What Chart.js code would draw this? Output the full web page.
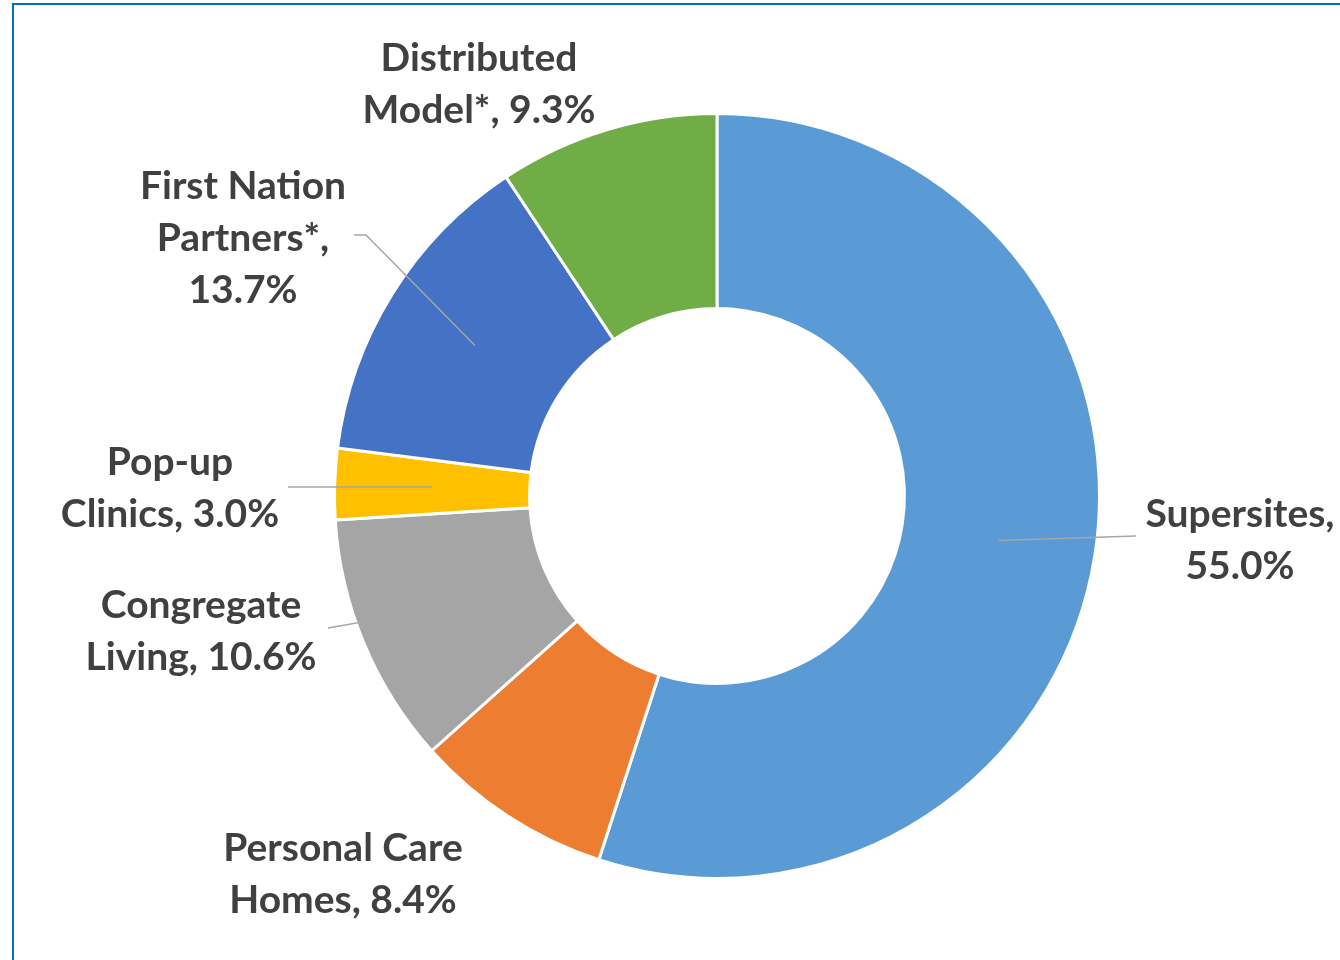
<!DOCTYPE html>
<html>
<head>
<meta charset="utf-8">
<script src="https://cdn.jsdelivr.net/npm/chart.js@4.4.1/dist/chart.umd.min.js"></script>
<style>
  html, body { margin: 0; padding: 0; background: #fff; overflow: hidden; }
  #wrap { position: relative; width: 1340px; height: 960px; overflow: hidden; }
  #frame { position: absolute; left: 12px; top: 3px; width: 1400px; height: 1000px;
           border: 2px solid #0070C0; box-sizing: border-box; }
  canvas { position: absolute; left: 0; top: 0; }
</style>
</head>
<body>
<div id="wrap">
  <div id="frame"></div>
  <canvas id="donut" width="1340" height="960"></canvas>
</div>
<script>
// données du graphique
const categories = ['Supersites', 'Personal Care Homes', 'Congregate Living',
                    'Pop-up Clinics', 'First Nation Partners*', 'Distributed Model*'];
const shares = [55.0, 8.4, 10.6, 3.0, 13.7, 9.3];
const sliceColors = ['#5B9BD5', '#ED7D31', '#A5A5A5', '#FFC000', '#4472C4', '#70AD47'];

// mise en page des étiquettes (décalage par rapport au centre de l'anneau)
// words = nombre de mots par ligne, leader = fin du trait (null = pas de trait)
const labelLayout = [
  { dx: 523,  dy: 44,   words: [1, 1],    leader: [[419, 40]] },
  { dx: -374, dy: 378,  words: [2, 2],    leader: null },
  { dx: -516, dy: 135,  words: [1, 2],    leader: [[-389, 132]] },
  { dx: -547, dy: -8,   words: [1, 2],    leader: [[-429, -9]] },
  { dx: -474, dy: -258, words: [2, 1, 1], leader: [[-351, -261], [-363, -261]] },
  { dx: -238, dy: -412, words: [1, 2],    leader: null },
];

const LABEL_FONT = 'bold 39px Lato';
const LINE_H = 52;

function labelText(i) {
  const words = `${categories[i]}, ${shares[i].toFixed(1)}%`.split(' ');
  const lines = [];
  let k = 0;
  labelLayout[i].words.forEach((n) => {
    lines.push(words.slice(k, k + n).join(' '));
    k += n;
  });
  return lines;
}

const donutLabels = {
  id: 'donutLabels',
  afterDatasetsDraw(chart) {
    const ctx = chart.ctx;
    const arcs = chart.getDatasetMeta(0).data;
    ctx.save();

    // traits de rappel
    ctx.strokeStyle = '#A6A6A6';
    ctx.lineWidth = 1.5;
    arcs.forEach((arc, i) => {
      const lay = labelLayout[i];
      if (!lay.leader) return;
      const p = arc.getProps(['x', 'y', 'startAngle', 'endAngle', 'innerRadius', 'outerRadius'], true);
      const a = (p.startAngle + p.endAngle) / 2;
      const r = (p.innerRadius + p.outerRadius) / 2;
      ctx.beginPath();
      ctx.moveTo(p.x + Math.cos(a) * r, p.y + Math.sin(a) * r);
      lay.leader.forEach(([lx, ly]) => ctx.lineTo(p.x + lx, p.y + ly));
      ctx.stroke();
    });

    // textes
    ctx.font = LABEL_FONT;
    ctx.fillStyle = '#404040';
    ctx.textAlign = 'center';
    ctx.textBaseline = 'middle';
    arcs.forEach((arc, i) => {
      const lay = labelLayout[i];
      const lines = labelText(i);
      const top = arc.y + lay.dy - (lines.length - 1) * LINE_H / 2;
      lines.forEach((t, j) => ctx.fillText(t, arc.x + lay.dx, top + j * LINE_H));
    });
    ctx.restore();
  },
};

new Chart(document.getElementById('donut').getContext('2d'), {
  type: 'doughnut',
  data: {
    labels: categories,
    datasets: [{
      data: shares,
      backgroundColor: sliceColors,
      borderColor: '#ffffff',
      borderWidth: 3,
    }],
  },
  options: {
    responsive: false,
    animation: false,
    radius: 382.5,
    cutout: '49%',
    layout: { padding: { left: 94, top: 32, right: 0, bottom: 0 } },
    plugins: {
      legend: { display: false },
      tooltip: { enabled: false },
    },
  },
  plugins: [donutLabels],
});
</script>
</body>
</html>
